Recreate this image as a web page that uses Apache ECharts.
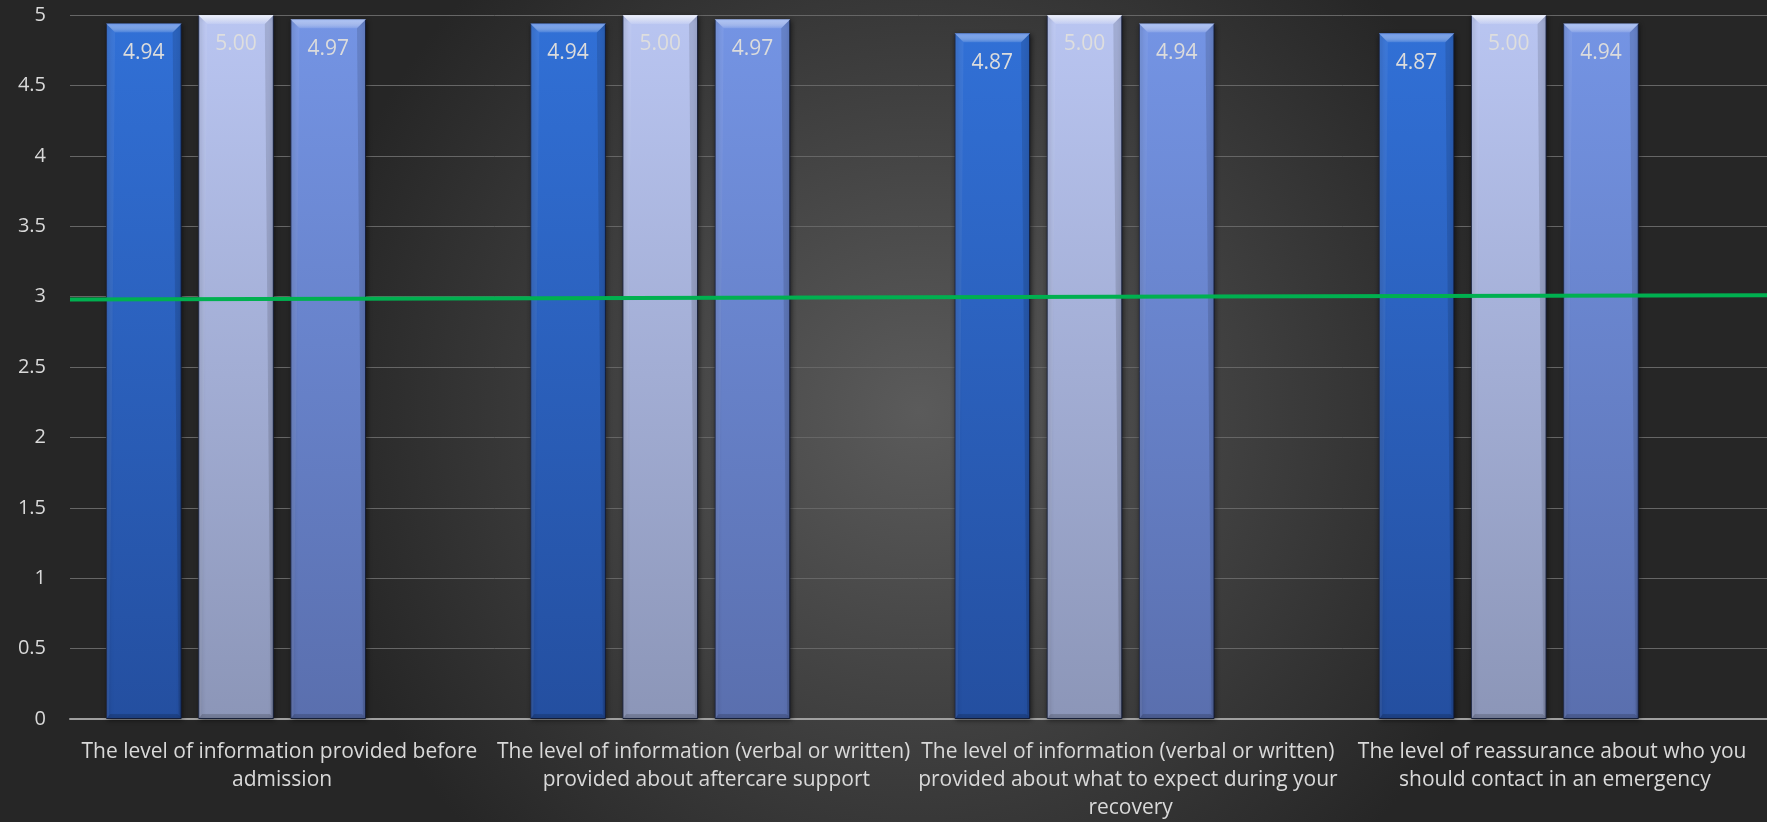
<!DOCTYPE html>
<html><head><meta charset="utf-8">
<script src="https://cdn.jsdelivr.net/npm/echarts@6/dist/echarts.min.js"></script>
<style>html,body{margin:0;padding:0;background:#2b2b2b;}#c{width:1767px;height:822px;}</style>
</head><body><div id="c"></div>
<script>
const categories = [
  "The level of information provided before admission",
  "The level of information (verbal or written) provided about aftercare support",
  "The level of information (verbal or written) provided about what to expect during your recovery",
  "The level of reassurance about who you should contact in an emergency"
];
const seriesA = [4.94, 4.94, 4.87, 4.87];
const seriesB = [5.00, 5.00, 5.00, 5.00];
const seriesC = [4.97, 4.97, 4.94, 4.94];
const targetLine = [2.98, 2.99, 3.00, 3.01];

const chart = echarts.init(document.getElementById('c'), null, {renderer: 'canvas'});
const FONT = 'Open Sans';
const BAR_CAT_GAP = 0.17, BAR_GAP = 0.22, SLOTS = 4;

function grad(top, bottom) {
  return new echarts.graphic.LinearGradient(0, 0, 0, 1, [{offset: 0, color: top}, {offset: 1, color: bottom}]);
}
const styles = [
  {fill: grad('#3170d6', '#244fa0'), bevel: '#6a98ee', label: '#dcdcdc'},
  {fill: grad('#b9c5f1', '#8c96b8'), bevel: '#eef2ff', label: '#dedede'},
  {fill: grad('#7494e4', '#5a6fae'), bevel: '#a8c0f8', label: '#dcdcdc'}
];
const dataSets = [seriesA, seriesB, seriesC];

function barSeries(i) {
  return {
    type: 'bar', name: 's' + i, data: dataSets[i], xAxisIndex: 0,
    barGap: (BAR_GAP * 100) + '%', barCategoryGap: (BAR_CAT_GAP * 100) + '%',
    itemStyle: {color: styles[i].fill, borderColor: 'rgba(20,30,60,0.9)', borderWidth: 1,
      shadowBlur: 5, shadowColor: 'rgba(0,0,0,0.55)', shadowOffsetX: 1, shadowOffsetY: 1},
    label: {show: true, position: 'insideTop', distance: 19, color: styles[i].label,
      fontFamily: FONT, fontSize: 21, formatter: p => p.value.toFixed(2)},
    z: 2
  };
}
function bevelSeries(i) {
  return {
    type: 'custom', xAxisIndex: 0, z: 3, silent: true,
    data: dataSets[i].map((v, k) => [k, v]),
    renderItem: function (params, api) {
      const band = api.size([1, 0])[0];
      const avail = band * (1 - BAR_CAT_GAP);
      const w = avail / (SLOTS + (SLOTS - 1) * BAR_GAP);
      const step = w * (1 + BAR_GAP);
      const c = api.coord([api.value(0), api.value(1)]);
      const base = api.coord([api.value(0), 0]);
      const x0 = c[0] - avail / 2 + i * step;
      const x1 = x0 + w;
      const yt = c[1], yb = base[1];
      const b = 9;
      return {type: 'group', children: [
        {type: 'polygon', shape: {points: [[x0, yt], [x1, yt], [x1 - b, yt + b], [x0 + b, yt + b]]},
          style: {fill: new echarts.graphic.LinearGradient(0, 0, 0, 1, [{offset: 0, color: styles[i].bevel}, {offset: 1, color: 'rgba(255,255,255,0.1)'}])}},
        {type: 'polygon', shape: {points: [[x0, yt], [x0 + b, yt + b], [x0 + 3, yb - 3], [x0, yb]]},
          style: {fill: 'rgba(255,255,255,0.06)'}},
        {type: 'polygon', shape: {points: [[x1, yt], [x1 - b, yt + b], [x1 - 3, yb - 3], [x1, yb]]},
          style: {fill: 'rgba(0,0,0,0.12)'}},
        {type: 'polygon', shape: {points: [[x0, yb], [x1, yb], [x1 - 4, yb - 5], [x0 + 4, yb - 5]]},
          style: {fill: 'rgba(0,0,0,0.15)'}}
      ]};
    }
  };
}

const option = {
  animation: false,
  backgroundColor: new echarts.graphic.RadialGradient(0.52, 0.5, 0.75, [
    {offset: 0, color: '#5b5b5b'}, {offset: 1, color: '#262626'}]),
  textStyle: {fontFamily: FONT},
  grid: {left: 70, right: 0, top: 15, bottom: 103, containLabel: false, outerBoundsMode: 'none'},
  xAxis: [{
    type: 'category', data: categories,
    axisLine: {lineStyle: {color: '#a0a0a0', width: 2}},
    axisTick: {show: false},
    axisLabel: {color: '#d9d9d9', fontSize: 21, fontFamily: FONT, lineHeight: 28, margin: 19,
      width: 436, overflow: 'break', interval: 0, align: 'center', hideOverlap: false}
  }, {
    type: 'category', data: categories, boundaryGap: false, show: false
  }],
  yAxis: {
    type: 'value', min: 0, max: 5, interval: 0.5,
    axisLine: {show: false}, axisTick: {show: false},
    splitLine: {lineStyle: {color: '#666666', width: 1}},
    axisLabel: {color: '#d9d9d9', fontSize: 20, fontFamily: FONT, margin: 24}
  },
  series: [
    barSeries(0), barSeries(1), barSeries(2),
    {type: 'bar', name: 'slot', data: [null, null, null, null], xAxisIndex: 0,
      barGap: (BAR_GAP * 100) + '%', barCategoryGap: (BAR_CAT_GAP * 100) + '%'},
    bevelSeries(0), bevelSeries(1), bevelSeries(2),
    {type: 'line', data: targetLine, xAxisIndex: 1, symbol: 'none',
      lineStyle: {color: '#00b050', width: 4}, z: 5}
  ]
};
chart.setOption(option);
</script></body></html>
